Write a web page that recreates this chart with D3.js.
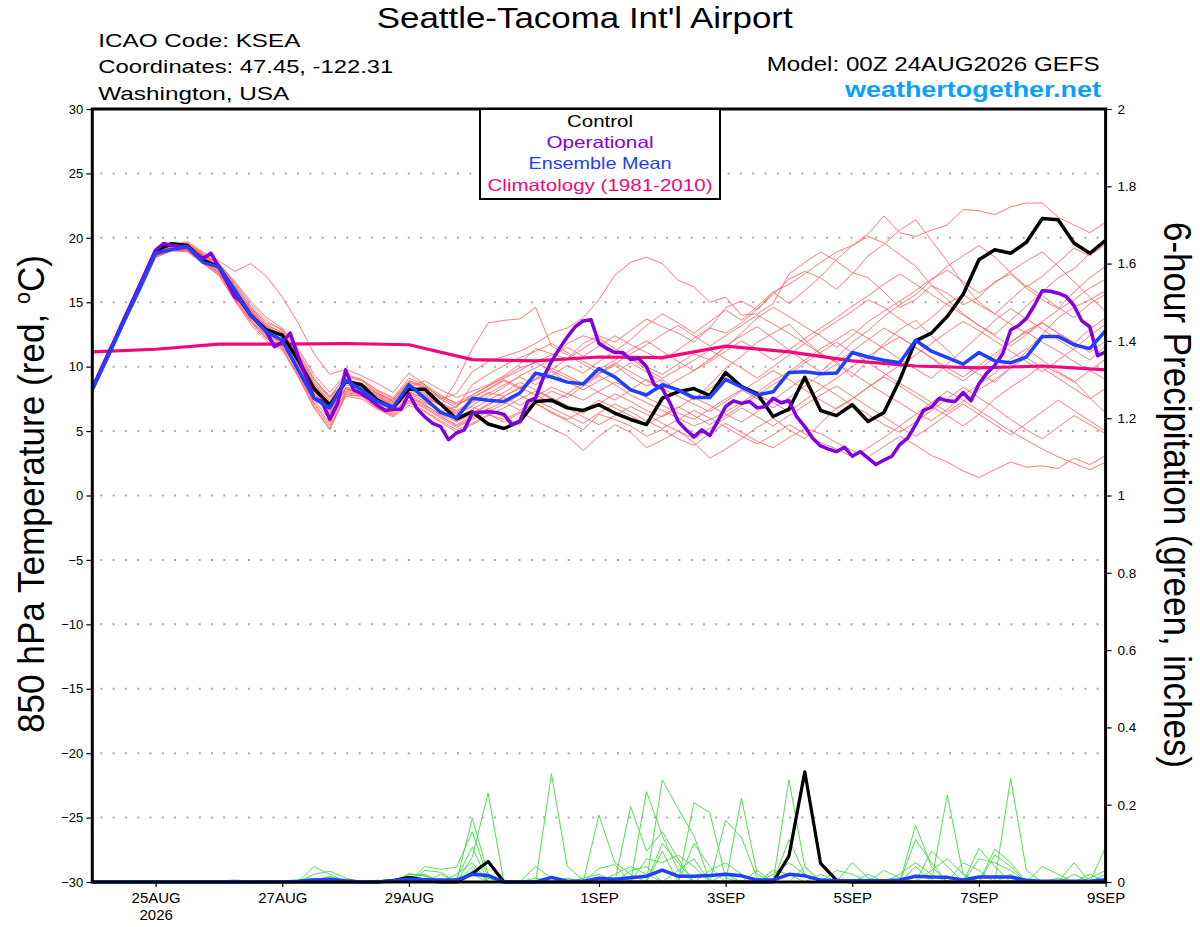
<!DOCTYPE html>
<html><head><meta charset="utf-8">
<script src="https://cdn.jsdelivr.net/npm/d3@7"></script>
<style>
html,body{margin:0;padding:0;background:#fff;}
svg{display:block;font-family:"Liberation Sans",Arial,Helvetica,sans-serif;}
</style>
</head><body>
<svg id="chart" width="1200" height="927"></svg>
<script>
// ---------------- DATA ----------------
const runStart = Date.UTC(2026, 7, 24, 0);   // 00Z 24AUG2026
const runEnd = Date.UTC(2026, 8, 9, 0);      // 9SEP
const stepHours = 6;       // members, control, mean
const opStepHours = 3;     // operational
const climStepHours = 24;  // climatology (daily)

const xTickDates = ["2026-08-25","2026-08-27","2026-08-29","2026-09-01","2026-09-03","2026-09-05","2026-09-07","2026-09-09"];
const xTickLabels = ["25AUG","27AUG","29AUG","1SEP","3SEP","5SEP","7SEP","9SEP"];
const xTickYears = ["2026","","","","","","",""];
const tempTicks = [-30,-25,-20,-15,-10,-5,0,5,10,15,20,25,30];
const tempGrid = [-25,-20,-15,-10,-5,0,5,10,15,20,25];
const precipTicks = [0,0.2,0.4,0.6,0.8,1,1.2,1.4,1.6,1.8,2];

const controlT = [8.3,10.9,13.6,16.3, 19.0,19.55,19.4,18.25, 17.75,15.8,14.0,12.85, 12.45,10.5,8.3,7.0,
  8.85,8.6,7.4,6.8, 8.25,8.25,7.1,5.95, 6.5,5.55,5.2,5.75, 7.3,7.4,6.8,6.6,
  7.05,6.4,5.9,5.5, 7.55,8.05,8.3,7.75, 9.55,8.45,7.9,6.13, 6.7,9.18,6.6,6.2,
  7.04,5.75,6.44,8.97, 12.0,12.6,13.9,15.6, 18.3,19.07,18.8,19.66, 21.5,21.4,19.6,18.8, 19.8];

const operationalT = [8.3,9.66,11.0,12.3,13.7,15.0,16.35,17.7, 19.05,19.56,19.43,19.35,19.3,18.8,18.4,18.8,
  17.75,16.6,15.4,15.0,14.0,13.4,12.7,11.55, 11.9,12.6,10.8,9.2,7.55,7.3,5.9,7.15,
  9.75,8.2,7.9,7.5,7.0,6.6,6.7,6.7, 7.9,6.75,6.1,5.6,5.35,4.33,4.85,5.1,
  6.4,6.47,6.5,6.45,6.3,5.5,5.75,7.3, 7.55,9.2,10.4,11.4,12.3,13.1,13.55,13.65,
  11.8,11.4,11.1,11.1,10.55,10.65,10.0,8.6, 8.3,7.15,5.75,5.1,4.55,5.1,4.65,5.75,
  6.9,7.35,7.15,7.3,6.8,6.9,7.55,7.2, 7.35,6.1,5.35,4.45,3.85,3.6,3.4,3.75,
  3.05,3.4,2.9,2.4,2.75,3.05,3.95,4.45, 5.5,6.6,6.85,7.55,7.35,7.3,8.0,7.35,
  8.65,9.5,10.1,11.0,12.85,13.2,13.75,14.75, 15.9,15.85,15.7,15.45,14.75,13.55,13.1,10.85, 11.15];

const meanT = [8.2,10.8,13.5,16.1, 18.8,19.1,19.3,18.1, 17.75,15.95,14.0,12.7, 12.05,9.75,7.55,6.8,
  8.95,8.2,7.3,6.85, 8.6,7.55,6.45,6.0, 7.55,7.4,7.3,7.95, 9.5,9.2,8.8,8.65,
  9.85,9.2,8.2,7.8, 8.6,8.2,7.6,7.6, 9.0,8.4,7.8,8.05, 9.55,9.6,9.45,9.5,
  11.1,10.75,10.5,10.3, 12.05,11.2,10.7,10.2, 11.1,10.45,10.3,10.75, 12.35,12.35,11.7,11.4, 12.8];

const climT = [11.15,11.35,11.75,11.75,11.8,11.7,10.55,10.45,10.75,10.7,11.6,11.15,10.45,10.05,9.9,10.05,9.75];

const memberT = [
 [8.2,10.9,13.7,16.2, 18.9,19.5,19.7,18.9, 18.2,17.4,18.0,17.0, 15.4,13.4,11.0,9.4, 9.8,9.3,8.7,8.0, 9.5,8.6,7.5,7.9, 9.6,10.4,10.8,11.2, 11.8,12.6,13.0,13.8, 15.2,17.1,18.1,18.5, 18.0,16.7,16.2,15.0, 15.4,14.0,14.1,14.9, 17.2,18.1,18.9,18.2, 17.3,16.9,15.8,14.6, 15.2,16.3,15.7,14.8, 15.4,16.6,17.2,16.1, 15.2,14.5,15.8,16.9, 17.8],
 [8.3,11.0,13.6,16.1, 18.8,19.3,19.4,18.6, 17.9,16.2,14.6,13.3, 12.6,10.9,8.8,7.6, 8.9,8.6,7.8,7.2, 8.4,8.9,8.2,7.6, 8.1,8.6,9.3,10.2, 11.4,11.0,10.6,11.8, 12.4,11.9,12.8,13.7, 13.1,12.6,11.9,13.0, 14.6,15.1,14.4,15.8, 16.4,17.2,18.1,18.9, 19.4,20.3,21.7,20.4, 20.1,20.6,21.0,22.2, 22.1,21.8,22.4,22.7, 22.7,21.6,21.0,20.4, 21.2],
 [8.1,10.7,13.4,16.0, 18.6,19.0,19.2,18.4, 17.6,15.9,14.3,12.9, 12.1,10.2,8.0,6.6, 8.4,8.2,7.4,6.9, 8.0,7.6,7.0,8.9, 11.4,13.4,13.6,13.7, 14.6,11.6,10.9,10.2, 9.5,10.1,9.2,8.5, 9.0,8.1,7.4,8.6, 9.9,10.8,11.9,12.6, 13.3,12.1,11.0,10.4, 9.2,10.5,11.8,12.9, 13.6,12.4,11.3,10.1, 9.4,8.8,9.9,11.2, 12.5,13.8,14.6,15.2, 15.9],
 [8.3,10.8,13.5,16.1, 18.7,19.1,19.0,18.1, 17.2,15.5,13.8,12.5, 11.8,9.6,7.2,5.6, 8.1,7.9,6.9,6.4, 7.6,7.1,6.2,5.4, 6.0,6.8,6.1,5.5, 7.2,6.4,5.8,5.1, 6.3,5.9,5.4,4.6, 5.1,4.4,3.9,4.8, 5.6,4.9,4.2,3.7, 4.5,5.2,4.8,4.1, 3.5,3.0,3.8,4.6, 3.9,3.1,2.6,1.9, 1.4,2.0,2.6,2.2, 2.3,2.1,2.9,2.4, 3.1],
 [8.2,10.9,13.6,16.2, 18.8,19.4,19.3,18.5, 17.8,16.0,14.4,13.1, 12.4,10.6,8.5,7.2, 8.8,8.4,7.6,7.0, 8.1,7.4,6.5,6.9, 7.8,8.5,9.1,9.7, 10.4,10.9,11.5,10.8, 11.6,12.4,11.7,11.1, 10.5,11.3,12.2,13.0, 12.6,13.4,14.5,15.6, 16.8,17.4,16.9,16.0, 17.2,18.6,19.5,20.6, 21.4,19.8,18.2,16.4, 15.0,14.1,15.2,16.3, 15.5,14.6,13.8,14.9, 15.6],
 [8.4,11.1,13.8,16.3, 18.9,19.6,19.5,18.7, 18.0,16.4,14.7,13.4, 12.9,11.2,9.1,7.7, 9.2,8.9,8.0,7.3, 8.6,8.0,7.2,6.6, 7.3,8.0,7.7,8.4, 9.0,9.6,8.8,8.2, 8.9,9.5,10.3,9.6, 8.8,8.1,7.5,8.3, 9.2,8.4,7.8,7.2, 6.5,7.4,8.3,9.1, 10.0,10.8,11.6,12.3, 11.5,10.7,9.6,8.9, 9.8,10.7,11.9,12.8, 13.4,12.6,11.8,12.9, 13.8],
 [8.2,10.8,13.4,15.9, 18.5,19.0,19.1,18.2, 17.3,15.4,13.6,12.3, 11.5,9.3,6.9,5.2, 7.8,7.7,6.8,6.2, 7.2,6.6,5.8,5.1, 5.6,6.3,5.9,6.5, 5.8,5.2,4.6,3.5, 4.6,5.5,4.9,3.7, 4.3,5.0,4.1,2.9, 3.6,4.4,5.3,6.0, 5.1,4.4,5.6,6.8, 7.5,8.4,9.2,8.5, 7.7,6.9,6.2,5.4, 6.3,7.5,8.4,9.2, 10.1,9.5,8.8,9.7, 10.6],
 [8.3,11.0,13.7,16.2, 18.8,19.4,19.6,18.8, 18.0,16.6,15.1,13.8, 13.0,11.4,9.4,8.0, 9.4,9.0,8.2,7.6, 9.1,8.6,7.8,7.1, 7.6,8.2,8.9,8.3, 9.0,9.8,10.6,11.4, 12.2,11.4,10.7,10.0, 9.4,10.2,11.0,10.5, 11.6,12.4,13.1,12.2, 11.3,10.4,9.6,10.7, 11.9,12.8,13.9,14.8, 15.6,16.7,17.8,18.6, 19.4,18.5,17.3,16.2, 17.0,18.1,19.2,18.6, 19.5],
 [8.1,10.7,13.3,15.9, 18.6,19.2,19.0,18.0, 17.1,15.2,13.5,12.2, 11.6,9.8,7.7,6.4, 8.2,8.0,7.1,6.7, 7.9,7.3,6.5,5.8, 6.4,7.1,7.6,7.0, 7.7,8.4,7.9,7.4, 8.1,8.8,8.3,7.6, 7.0,6.4,5.9,6.7, 7.5,8.2,7.5,6.8, 7.6,8.5,9.4,10.2, 9.5,8.7,7.9,7.2, 6.4,5.8,6.7,7.8, 8.6,9.5,10.6,11.4, 10.5,9.6,8.9,7.6, 6.4],
 [8.3,10.9,13.5,16.1, 18.7,19.2,19.3,18.4, 17.6,15.9,14.2,13.0, 12.3,10.4,8.3,6.9, 8.7,8.5,7.7,7.0, 8.3,7.8,7.0,6.4, 7.0,7.7,8.4,9.3, 9.9,10.6,11.8,12.4, 12.0,11.2,12.1,13.2, 14.1,13.4,12.6,13.5, 14.4,13.6,14.7,15.8, 14.9,15.9,17.0,18.3, 19.4,20.1,19.6,18.7, 17.8,16.3,15.2,14.1, 13.2,12.5,13.6,14.7, 15.8,16.9,17.6,18.8, 19.8],
 [8.2,10.8,13.5,16.0, 18.6,19.1,19.2,18.3, 17.5,15.6,13.9,12.6, 11.9,10.0,7.9,6.5, 8.3,8.1,7.3,6.8, 7.7,7.2,6.6,6.0, 6.7,7.4,8.0,8.8, 8.2,7.6,7.0,6.4, 7.1,7.9,7.3,6.6, 6.1,6.8,7.6,7.0, 6.3,5.7,6.5,7.4, 8.3,9.2,8.6,7.8, 7.0,6.3,5.5,4.9, 5.7,6.6,7.5,8.4, 7.6,6.8,5.9,5.1, 4.4,5.3,6.2,5.5, 4.8],
 [8.4,11.0,13.7,16.3, 19.0,19.6,19.5,18.6, 17.9,16.3,14.5,13.2, 12.7,10.8,8.7,7.3, 9.0,8.7,7.9,7.3, 8.8,8.3,7.5,6.8, 8.6,9.4,10.1,10.7, 11.2,11.8,11.1,10.4, 9.8,10.5,11.3,12.0, 11.2,10.4,9.7,10.6, 11.5,12.6,13.8,14.6, 13.9,13.1,12.4,11.5, 12.4,13.5,14.3,15.1, 15.9,16.8,17.5,16.6, 15.7,16.5,17.4,18.2, 18.9,17.8,16.6,15.4, 14.3],
 [8.2,10.8,13.4,16.0, 18.7,19.3,19.4,18.5, 17.7,15.7,14.0,12.8, 12.0,10.1,8.1,6.8, 8.6,8.3,7.5,6.9, 8.2,7.7,7.0,6.3, 6.9,6.3,5.7,6.4, 7.3,8.1,7.6,8.5, 9.3,8.6,7.8,7.2, 6.6,6.0,5.4,5.9, 6.5,7.2,8.0,8.9, 9.6,10.5,11.4,12.1, 12.9,12.2,11.4,10.6, 9.8,9.1,10.2,11.3, 12.4,13.6,14.5,13.7, 12.9,12.1,11.3,10.5, 11.6],
 [8.3,10.9,13.6,16.1, 18.7,19.2,19.1,18.2, 17.4,15.5,13.7,12.4, 11.7,9.6,7.4,5.9, 8.0,7.8,7.0,6.5, 7.4,6.9,6.1,5.5, 6.1,6.7,7.3,6.6, 7.4,6.8,6.2,5.6, 6.4,7.1,6.5,5.8, 5.2,5.9,6.6,6.0, 5.3,4.6,4.0,4.7, 5.5,4.8,4.1,3.6, 3.0,3.7,4.5,5.4, 6.3,7.2,8.1,7.4, 6.6,5.8,5.0,4.3, 3.6,3.0,2.5,2.0, 2.6],
 [8.3,11.0,13.6,16.2, 18.9,19.4,19.3,18.4, 17.7,16.0,14.3,13.0, 12.4,10.5,8.4,7.1, 8.8,8.5,7.7,7.1, 8.4,7.9,7.1,6.5, 7.2,7.9,8.6,9.2, 8.6,9.3,10.1,9.5, 10.4,11.2,10.6,9.8, 9.1,9.8,10.5,11.3, 10.6,9.9,9.1,10.0, 10.9,11.8,12.7,13.5, 14.3,15.2,14.6,13.7, 12.9,13.8,14.9,15.6, 14.8,14.1,13.3,12.6, 13.5,14.4,15.2,16.1, 16.8],
 [8.2,10.8,13.5,16.0, 18.6,19.1,19.2,18.3, 17.5,15.6,13.9,12.6, 11.9,9.9,7.7,6.3, 8.3,8.0,7.2,6.6, 7.6,7.0,6.3,5.7, 6.3,7.0,7.7,8.3, 9.1,9.9,9.3,8.7, 8.0,7.4,8.2,9.0, 8.3,7.7,7.1,6.5, 7.3,8.1,8.9,9.7, 9.0,8.2,7.4,6.7, 7.5,8.4,9.3,10.1, 10.9,11.8,12.7,13.5, 12.8,12.0,11.2,10.4, 9.6,10.5,11.4,12.4, 13.3],
 [8.3,10.9,13.6,16.2, 18.8,19.3,19.4,18.6, 17.8,16.1,14.4,13.1, 12.5,10.7,8.6,7.4, 9.0,8.7,7.9,7.4, 8.9,8.4,7.7,7.2, 7.8,8.5,9.2,9.9, 10.3,9.7,9.1,8.6, 9.4,10.2,11.0,11.7, 12.5,13.2,12.4,11.6, 12.4,13.2,14.0,13.3, 12.6,11.8,11.0,10.3, 11.2,12.1,13.0,12.3, 11.5,10.7,9.9,9.2, 10.1,11.0,11.9,12.7, 11.9,11.2,10.4,9.7, 9.0],
 [8.2,10.8,13.4,15.9, 18.5,19.0,19.0,18.1, 17.3,15.3,13.5,12.2, 11.4,9.4,7.1,5.4, 7.9,7.7,6.8,6.3, 7.3,6.8,6.0,5.3, 5.9,6.5,7.1,7.8, 7.1,6.5,5.9,6.6, 7.4,6.8,6.2,5.5, 6.2,6.9,6.2,5.5, 6.2,7.0,7.8,8.6, 9.4,10.3,11.1,11.9, 11.1,10.3,9.5,8.7, 8.0,7.2,6.5,7.3, 8.2,9.0,9.9,10.7, 9.9,9.1,8.3,7.5, 8.3],
 [8.3,11.0,13.7,16.3, 18.9,19.5,19.6,18.7, 18.0,16.5,14.9,13.6, 12.8,11.0,9.0,7.6, 9.3,9.0,8.1,7.5, 8.9,8.5,7.6,7.0, 7.6,8.3,9.0,8.4, 7.8,7.2,7.9,8.7, 9.5,10.3,9.6,8.9, 8.3,9.0,9.7,10.4, 11.2,12.0,11.3,10.5, 11.3,12.2,13.0,13.8, 14.7,15.5,16.4,17.2, 16.4,15.6,14.8,14.0, 13.2,12.4,11.6,12.5, 13.4,12.6,11.9,11.1, 12.0],
 [8.1,10.7,13.3,15.8, 18.5,19.0,18.9,18.0, 17.1,15.1,13.3,12.0, 11.3,9.2,6.8,5.1, 7.7,7.5,6.7,6.1, 7.0,6.5,5.7,4.9, 5.5,6.2,6.8,7.5, 8.1,7.5,6.8,6.1, 5.5,6.2,6.9,6.3, 5.6,5.0,4.4,5.2, 6.0,6.8,6.1,5.4, 6.2,7.0,7.8,8.5, 7.7,6.9,6.1,5.3, 4.6,5.4,6.3,7.1, 6.3,5.5,4.7,5.6, 6.5,7.4,6.6,5.8, 5.0]
];

const controlP = [0,0,0,0, 0,0,0,0, 0,0,0,0, 0,0,0,0, 0,0,0,0.004, 0.012,0.005,0,0, 0.022,0.053,0,0, 0,0,0,0,
  0,0,0,0, 0,0,0,0, 0,0,0,0, 0.067,0.285,0.048,0.005, 0,0,0,0, 0,0,0,0, 0,0,0,0, 0,0,0,0, 0];
const meanP = [0,0,0,0, 0,0,0,0, 0,0.001,0,0, 0,0.002,0.005,0.007, 0.003,0,0,0.003, 0.007,0.006,0.005,0.005, 0.02,0.017,0,0, 0,0.012,0.002,0.002,
  0.01,0.007,0.011,0.015, 0.031,0.015,0.015,0.017, 0.02,0.016,0.005,0.005, 0.02,0.016,0.005,0.003, 0.003,0.003,0.003,0.005, 0.015,0.013,0.012,0.005, 0.013,0.013,0.013,0.004, 0.002,0.002,0.002,0.002, 0.006];
const memberP = [
 [0,0,0,0, 0,0,0,0, 0,0,0,0, 0,0,.04,.02, 0,0,0,0, 0,0,0,0, .165,.02,0,0, 0,0,0,0, .173,.05,.02,0, 0,0,.205,.18, .01,0,0,0, 0,0,0,0, 0,0,0,0, .147,.04,0,0, 0,0,.02,0, 0,0,0,0, 0],
 [0,0,0,0, 0,0,0,0, 0,0,0,0, 0,0,0,0, 0,0,0,0, 0,.04,.033,.038, .13,.01,0,0, 0,.28,.04,.005, 0,0,0,.234, .12,.03,0,0, 0,0,0,0, .264,.04,0,0, 0,0,0,0, 0,0,.225,.02, 0,0,0,0, 0,0,0,0, .09],
 [0,0,0,0, 0,0,0,0, 0,0,0,0, 0,0,0,0, 0,0,0,0, .022,.015,0,0, .065,.23,0,0, 0,0,0,0, 0,0,0,0, .264,.19,.12,0, 0,.217,.02,0, 0,0,0,0, 0,0,0,0, 0,0,0,0, 0,0,.268,.03, 0,0,0,0, 0],
 [0,0,0,0, 0,0,0,0, 0,0,0,0, 0,0,.02,.028, .01,0,0,0, 0,0,0,0, .04,0,0,0, 0,0,0,0, 0,0,.195,.08, .13,.06,0,0, .16,.115,.01,0, 0,0,0,0, 0,0,0,0, .11,.05,0,0, .087,.04,0,0, 0,0,.05,0, 0],
 [0,0,0,0, 0,0,0,0, 0,0,0,0, 0,0,0,0, 0,0,0,0, .012,.02,0,.01, .09,0,0,0, 0,0,0,0, .035,.045,0,0, .08,0,.1,.04, 0,0,0,0, .11,.02,0,0, .05,.01,0,0, 0,0,0,0, 0,.085,.05,0, 0,0,0,.01, .03],
 [0,0,0,0, 0,0,0,0, 0,0,0,0, 0,.005,.01,0, 0,0,0,0, 0,0,.02,0, .03,.01,0,0, .04,.01,0,0, 0,0,0,.06, .05,.07,.04,0, 0,0,0,.02, .05,.02,0,0, 0,0,0,.02, .05,.02,0,0, .06,.05,.03,0, 0,0,0,0, 0],
 [0,0,0,0, 0,0,0,0, 0,.003,0,0, 0,0,0,0, 0,0,0,0, 0,.03,.025,0, 0,0,.005,0, 0,0,0,0, 0,.02,.04,.02, 0,0,0,.03, .05,.02,0,0, 0,0,0,.03, .02,0,0,0, 0,.08,.04,0, 0,0,0,0, .04,.02,0,0, 0],
 [0,0,0,0, 0,0,0,0, 0,0,0,0, 0,0,0,.015, 0,0,0,0, 0,0,0,.02, .05,0,0,0, 0,0,0,.01, .02,0,0,0, .1,.05,0,0, 0,0,.03,0, 0,0,.02,0, 0,0,.03,.01, 0,0,0,.05, .03,0,0,0, 0,0,0,.02, 0],
 [0,0,0,0, 0,0,0,0, 0,0,0,0, 0,0,0,0, 0,0,.005,0, .02,.018,0,0, 0,0,0,0, 0,0,.01,0, 0,0,.03,.04, 0,0,0,0, .02,0,0,0, 0,.04,0,0, 0,.02,0,0, .04,0,0,0, 0,.07,.04,0, 0,0,.02,0, 0],
 [0,0,0,0, 0,0,0,0, 0,0,0,0, 0,0,0,0, 0,0,0,0, 0,0,0,0, .02,0,0,0, .01,0,0,0, 0,0,0,0, 0,.03,.06,0, 0,0,0,.03, .02,0,0,0, 0,0,0,0, 0,.03,.06,.02, 0,0,0,.01, 0,.01,0,0, .02]
];

const legendLabels = ["Control","Operational","Ensemble Mean","Climatology (1981-2010)"];
const legendColors = ["#000000","#8000e0","#2040ff","#f0087c"];

// ---------------- CHART ----------------
const svg = d3.select("#chart");
const L = 92.3, R = 1105.6, T = 109, B = 882;
const HOUR = 3600e3;

const x = d3.scaleUtc().domain([new Date(runStart), new Date(runEnd)]).range([L, R]);
const y = d3.scaleLinear().domain([-30, 30]).range([B, T]);
const yP = d3.scaleLinear().domain([0, 2]).range([B, T]);

const tAt = (i, h) => new Date(runStart + i * h * HOUR);

// gridlines
svg.append("g").selectAll("line").data(tempGrid).join("line")
  .attr("x1", L + 8).attr("x2", R).attr("y1", d => y(d)).attr("y2", d => y(d))
  .attr("stroke", "#aaaaaa").attr("stroke-width", 2).attr("stroke-dasharray", "2,10.3");

const lineT = (h) => d3.line().x((d, i) => x(tAt(i, h))).y(d => y(d));
const lineP = d3.line().x((d, i) => x(tAt(i, stepHours))).y(d => yP(d));

const plot = svg.append("g").attr("fill", "none").attr("stroke-linejoin", "round");

// precipitation members
plot.selectAll("path.gp").data(memberP).join("path").attr("class", "gp")
  .attr("d", lineP).attr("stroke", "#3ddc3d").attr("stroke-width", 0.9);
// temperature members
plot.selectAll("path.rt").data(memberT).join("path").attr("class", "rt")
  .attr("d", lineT(stepHours)).attr("stroke", "#ff5a5a").attr("stroke-width", 0.9).attr("stroke-opacity", 0.9);

// precip control & mean
plot.append("path").attr("d", lineP(controlP)).attr("stroke", "#000").attr("stroke-width", 3.2);
plot.append("path").attr("d", lineP(meanP)).attr("stroke", "#2040ff").attr("stroke-width", 3.5);

// climatology
plot.append("path").attr("d", lineT(climStepHours)(climT)).attr("stroke", "#f0087c").attr("stroke-width", 3.2);
// control
plot.append("path").attr("d", lineT(stepHours)(controlT)).attr("stroke", "#000").attr("stroke-width", 3.5);
// operational
plot.append("path").attr("d", lineT(opStepHours)(operationalT)).attr("stroke", "#8000e0").attr("stroke-width", 3.5);
// mean
plot.append("path").attr("d", lineT(stepHours)(meanT)).attr("stroke", "#2040ff").attr("stroke-width", 3.5);

// axes
const axL = svg.append("g").attr("transform", `translate(${L},0)`)
  .call(d3.axisLeft(y).tickValues(tempTicks).tickSize(6).tickPadding(3).tickFormat(d3.format("d")));
const axR = svg.append("g").attr("transform", `translate(${R},0)`)
  .call(d3.axisRight(yP).tickValues(precipTicks).tickSize(6).tickPadding(6)
    .tickFormat(d => (d === 0 || d === 1 || d === 2) ? String(d) : d.toFixed(1)));
const xDates = xTickDates.map(s => new Date(s + "T00:00:00Z"));
const axB = svg.append("g").attr("transform", `translate(0,${B})`)
  .call(d3.axisBottom(x).tickValues(xDates).tickSize(5).tickPadding(5).tickFormat((d, i) => xTickLabels[i]));
[axL, axR, axB].forEach(a => {
  a.select(".domain").remove();
  a.selectAll(".tick line").attr("stroke", "#000").attr("stroke-width", 1.2);
  a.selectAll("text").attr("fill", "#000").attr("font-family", "'Liberation Sans',Arial,sans-serif");
});
axL.selectAll("text").attr("font-size", 13);
axR.selectAll("text").attr("font-size", 13.5);
axB.selectAll("text").attr("font-size", 15);
axB.selectAll(".tick").append("text").attr("y", 38).attr("fill", "#000").attr("font-size", 15)
  .attr("text-anchor", "middle").text((d, i) => xTickYears[i]);

// frame
svg.append("rect").attr("x", L).attr("y", T).attr("width", R - L).attr("height", B - T)
  .attr("fill", "none").attr("stroke", "#000").attr("stroke-width", 3);

// legend box
const lg = svg.append("g");
lg.append("rect").attr("x", 480).attr("y", T).attr("width", 240).attr("height", 90)
  .attr("fill", "#fff").attr("stroke", "#000").attr("stroke-width", 2);
const legendLengths = [66, 107, 143, 225];
lg.selectAll("text").data(legendLabels).join("text")
  .attr("x", 600).attr("y", (d, i) => 126.7 + i * 21.3).attr("text-anchor", "middle")
  .attr("font-size", 16.5).attr("fill", (d, i) => legendColors[i])
  .attr("textLength", (d, i) => legendLengths[i]).attr("lengthAdjust", "spacingAndGlyphs")
  .text(d => d);

// header texts
function txt(s, xx, yy, size, len, opts = {}) {
  const t = svg.append("text").attr("x", xx).attr("y", yy).attr("font-size", size)
    .attr("fill", opts.fill || "#000").attr("text-anchor", opts.anchor || "start")
    .attr("font-weight", opts.weight || "normal")
    .attr("textLength", len).attr("lengthAdjust", "spacingAndGlyphs").text(s);
  return t;
}
txt("Seattle-Tacoma Int'l Airport", 376.7, 28.3, 29, 416);
txt("ICAO Code: KSEA", 98.3, 46.7, 19, 202);
txt("Coordinates: 47.45, -122.31", 98.3, 73, 19, 295);
txt("Washington, USA", 98.3, 99.5, 19, 191);
txt("Model: 00Z 24AUG2026 GEFS", 766.7, 71, 19.5, 333);
txt("weathertogether.net", 845, 97, 22, 256, {fill: "#0aa0ff", weight: "bold"});

// axis titles
const lt = svg.append("text").attr("transform", "translate(44,494) rotate(-90)")
  .attr("text-anchor", "middle").attr("font-size", 36).attr("fill", "#000")
  .attr("textLength", 478).attr("lengthAdjust", "spacingAndGlyphs");
lt.append("tspan").text("850 hPa Temperature (red, ");
lt.append("tspan").attr("font-size", 22).attr("dy", -14).text("o");
lt.append("tspan").attr("dy", 14).text("C)");

svg.append("text").attr("transform", "translate(1164,495) rotate(90)")
  .attr("text-anchor", "middle").attr("font-size", 38).attr("fill", "#000")
  .attr("textLength", 546).attr("lengthAdjust", "spacingAndGlyphs")
  .text("6-hour Precipitation (green, inches)");
</script>
</body></html>
